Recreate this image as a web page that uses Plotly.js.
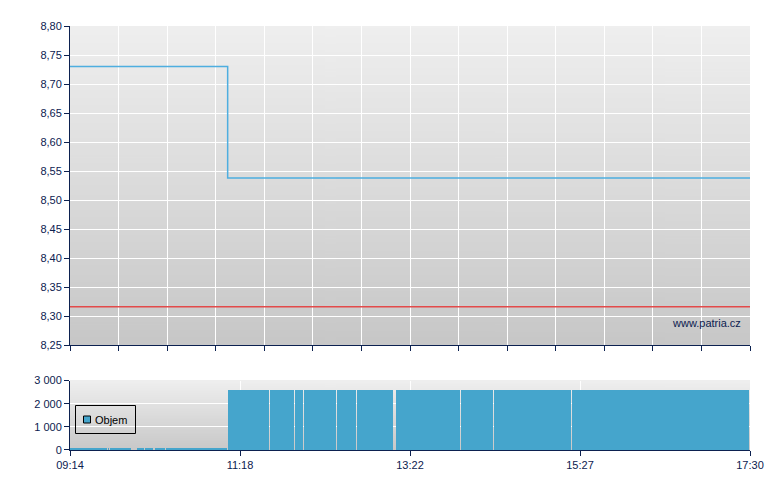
<!DOCTYPE html>
<html>
<head>
<meta charset="utf-8">
<script src="https://cdn.plot.ly/plotly-3.0.1.min.js"></script>
<style>html,body{margin:0;padding:0;background:#fff;}#chart{width:780px;height:490px;}</style>
</head>
<body>
<div id="chart"></div>
<script>
// ---- data ----
const tradeDay = '2024-01-15';
const sessionStart = '09:14';
const sessionEnd = '17:30';
const priceTimes = ['09:14', '11:09', '17:30'];
const priceValues = [8.73, 8.538, 8.538];
const prevCloseTimes = ['09:14', '17:30'];
const prevCloseValues = [8.316, 8.316];
const volStart = ['09:14','09:42','09:43','10:03','10:09','10:15','10:16','10:24','11:09','11:40','11:58','12:05','12:29','12:43','13:12','13:59','14:23','15:20'];
const volEnd   = ['09:42','09:43','09:59','10:09','10:15','10:16','10:24','11:09','11:40','11:58','12:05','12:29','12:43','13:10','13:59','14:23','15:20','17:30'];
const volValues = [90,90,90,90,90,90,90,90,2600,2600,2600,2600,2600,2600,2600,2600,2600,2600];
const volTickLabels = ['09:14', '11:18', '13:22', '15:27', '17:30'];
const volYTicks = [0, 1000, 2000, 3000];
const seriesName = 'Objem';
const watermark = 'www.patria.cz';

// ---- helpers ----
function ms(t) {
  const [y, m, d] = tradeDay.split('-').map(Number);
  const [hh, mm] = t.split(':').map(Number);
  return Date.UTC(y, m - 1, d, hh, mm);
}
function gradient(top, bottom) {
  const c = document.createElement('canvas');
  c.width = 4; c.height = 256;
  const g = c.getContext('2d');
  const lg = g.createLinearGradient(0, 0, 0, 256);
  lg.addColorStop(0, top); lg.addColorStop(1, bottom);
  g.fillStyle = lg; g.fillRect(0, 0, 4, 256);
  return c.toDataURL();
}
// pixel -> paper helpers for the legend box placement
const M = {l: 70, r: 30, t: 26, b: 40}, W = 780, H = 490;
const px = v => (v - M.l) / (W - M.l - M.r);
const py = v => (H - M.b - v) / (H - M.t - M.b);

const t0 = ms(sessionStart), t1 = ms(sessionEnd);
const span = t1 - t0;
const topTicks = []; for (let i = 0; i <= 14; i++) topTicks.push(t0 + span * i / 14);
const botTicks = volTickLabels.map((_, i) => t0 + span * i / (volTickLabels.length - 1));
const barGap = 45000;

const navy = '#0c2150';
const barColor = '#45a5cc';
const font = {family: '"Liberation Sans", Arial, sans-serif', size: 11, color: navy};

const traces = [
  {x: priceTimes.map(ms), y: priceValues, type: 'scatter', mode: 'lines',
   line: {shape: 'hv', color: '#4eaee0', width: 1.5}, xaxis: 'x', yaxis: 'y', showlegend: false, hoverinfo: 'skip'},
  {x: prevCloseTimes.map(ms), y: prevCloseValues, type: 'scatter', mode: 'lines',
   line: {color: '#e34a4a', width: 1.5}, xaxis: 'x', yaxis: 'y', showlegend: false, hoverinfo: 'skip'},
  {x: volStart.map(ms), y: volValues, type: 'bar', offset: 0, name: seriesName,
   width: volStart.map((s, i) => ms(volEnd[i]) - ms(s) - barGap),
   marker: {color: barColor, line: {width: 0}}, xaxis: 'x2', yaxis: 'y2', showlegend: false, hoverinfo: 'skip'}
];

const axisCommon = {showline: true, linecolor: navy, linewidth: 1, ticks: 'outside', ticklen: 5,
  tickcolor: navy, gridcolor: '#ffffff', gridwidth: 1, zeroline: false, tickfont: font, fixedrange: true};

const layout = {
  width: W, height: H,
  margin: M,
  paper_bgcolor: '#ffffff', plot_bgcolor: '#dcdcdc',
  separators: ', ',
  font: font,
  bargap: 0,
  showlegend: false,
  xaxis: Object.assign({}, axisCommon, {type: 'date', range: [t0, t1], anchor: 'y',
    tickmode: 'array', tickvals: topTicks, showticklabels: false}),
  yaxis: Object.assign({}, axisCommon, {domain: [0.2476, 1], range: [8.25, 8.80], dtick: 0.05,
    tick0: 8.25, tickformat: '.2f', anchor: 'x'}),
  xaxis2: Object.assign({}, axisCommon, {type: 'date', range: [t0, t1], anchor: 'y2',
    tickmode: 'array', tickvals: botTicks, ticktext: volTickLabels}),
  yaxis2: Object.assign({}, axisCommon, {domain: [0, 0.1639], range: [0, 3000],
    tickmode: 'array', tickvals: volYTicks, tickformat: ',d', separatethousands: true, anchor: 'x2'}),
  images: [
    {source: gradient('#efefef', '#c7c7c7'), xref: 'x domain', yref: 'y domain', x: 0, y: 1,
     sizex: 1, sizey: 1, sizing: 'stretch', xanchor: 'left', yanchor: 'top', layer: 'below'},
    {source: gradient('#efefef', '#c8c8c8'), xref: 'x2 domain', yref: 'y2 domain', x: 0, y: 1,
     sizex: 1, sizey: 1, sizing: 'stretch', xanchor: 'left', yanchor: 'top', layer: 'below'}
  ],
  shapes: [
    // legend frame
    {type: 'rect', xref: 'paper', yref: 'paper', x0: px(75.5), x1: px(135.5), y0: py(433.5), y1: py(405.5),
     line: {color: '#000', width: 1}, fillcolor: 'rgba(0,0,0,0)', layer: 'above'},
    // legend swatch
    {type: 'rect', xref: 'paper', yref: 'paper', x0: px(83.5), x1: px(90.5), y0: py(423), y1: py(416),
     line: {color: '#000', width: 1}, fillcolor: barColor, layer: 'above'}
  ],
  annotations: [
    {text: watermark, xref: 'paper', yref: 'paper', x: 0.989, y: 0.299, xanchor: 'right',
     yanchor: 'middle', showarrow: false, font: font},
    {text: seriesName, xref: 'paper', yref: 'paper', x: px(94), y: py(419.5), xanchor: 'left',
     yanchor: 'middle', showarrow: false, font: Object.assign({}, font, {color: '#000'}),
     xshift: -1}
  ],
  hovermode: false
};

Plotly.newPlot('chart', traces, layout, {staticPlot: true, displayModeBar: false});
</script>
</body>
</html>
